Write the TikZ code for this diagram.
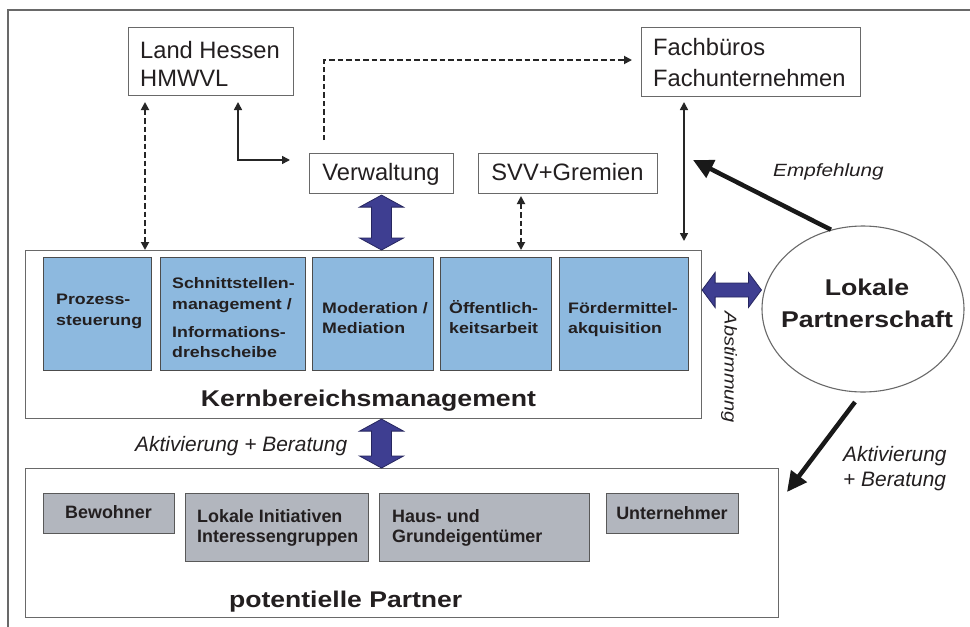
\documentclass[tikz,border=0pt]{standalone}
\usepackage{fontspec}
\setmainfont{Liberation Sans}
\newfontfamily\wf{Liberation Sans}[FakeStretch=1.17]
\usetikzlibrary{arrows.meta,calc,shapes.geometric}
\definecolor{txt}{RGB}{35,31,32}
\definecolor{bfill}{RGB}{141,185,223}
\definecolor{gfill}{RGB}{178,182,190}
\definecolor{afill}{RGB}{62,62,145}
\definecolor{aline}{RGB}{38,38,95}
\definecolor{frm}{RGB}{105,105,105}
\newcommand\fsz[2]{\fontsize{#1}{#2}\selectfont}
\newcommand\blkV[2]{%
  \filldraw[blk] let \p1=(#1), \p2=(#2) in
  (\x1-22pt,\y1-12pt) -- (\x1,\y1) -- (\x1+22pt,\y1-12pt) -- (\x1+10pt,\y1-12pt)
  -- (\x1+10pt,\y2+12pt) -- (\x1+22pt,\y2+12pt) -- (\x1,\y2) -- (\x1-22pt,\y2+12pt)
  -- (\x1-10pt,\y2+12pt) -- (\x1-10pt,\y1-12pt) -- cycle;}
\newcommand\blkH[2]{%
  \filldraw[blk] let \p1=(#1), \p2=(#2) in
  (\x1,\y1) -- (\x1+13pt,\y1+17.5pt) -- (\x1+13pt,\y1+7pt) -- (\x2-13pt,\y1+7pt)
  -- (\x2-13pt,\y1+17.5pt) -- (\x2,\y1) -- (\x2-13pt,\y1-17.5pt) -- (\x2-13pt,\y1-7pt)
  -- (\x1+13pt,\y1-7pt) -- (\x1+13pt,\y1-17.5pt) -- cycle;}
\begin{document}
\begin{tikzpicture}[x=1pt,y=-1pt,
  wbox/.style={draw=frm,line width=1.1pt,fill=white,inner sep=0pt,anchor=north west},
  bbox/.style={draw=black!70,line width=1.1pt,fill=bfill,inner sep=0pt,anchor=north west},
  gbox/.style={draw=black!65,line width=1.1pt,fill=gfill,inner sep=0pt,anchor=north west},
  lbl/.style={inner sep=0pt,text=txt,anchor=base west},
  clbl/.style={inner sep=0pt,text=txt,anchor=base},
  regf/.style={font=\fsz{23.7}{28}},
  bluef/.style={font=\wf\bfseries\fsz{15.2}{20}},
  grayf/.style={font=\bfseries\fsz{17.9}{20}},
  bigf/.style={font=\wf\bfseries\fsz{22.8}{28}},
  itf/.style={font=\itshape\fsz{20.9}{25}},
  dsh/.style={line width=1.8pt,draw=black!85,dash pattern=on 5.5pt off 3pt,
    {Triangle[length=8pt,width=8pt]}-{Triangle[length=8pt,width=8pt]}},
  sol/.style={line width=1.6pt,draw=black!85,
    {Triangle[length=8pt,width=8pt]}-{Triangle[length=8pt,width=8pt]}},
  thick arr/.style={line width=4.5pt,draw=black!90,-{Triangle[length=20pt,width=19pt]}},
  blk/.style={fill=afill,draw=aline,line width=0.8pt,line join=miter}
]
\useasboundingbox (0,0) rectangle (970,627);
\fill[white] (0,0) rectangle (970,627);
% outer frame
\draw[frm,line width=1.3pt] (8,627) -- (8,10) -- (970,10);

% top boxes
\node[wbox,minimum width=165pt,minimum height=68pt] (lh) at (128,27) {};
\node[wbox,minimum width=219pt,minimum height=69pt] (fb) at (641,27) {};
\node[wbox,minimum width=144pt,minimum height=40pt] (verw) at (309,153) {};
\node[wbox,minimum width=179pt,minimum height=40pt] (svv) at (478,153) {};

\node[lbl,regf] (t1) at (140,58) {Land Hessen};
\node[lbl,regf] (t2) at (140,86) {HMWVL};
\node[lbl,regf] (t3) at (653,55) {Fachbüros};
\node[lbl,regf] (t4) at (653,86) {Fachunternehmen};
\node[clbl,regf] (t5) at (381,180) {Verwaltung};
\node[clbl,regf] (t6) at (567.5,180) {SVV+Gremien};

% Kernbereich
\node[wbox,minimum width=676pt,minimum height=168pt] (kern) at (25,250) {};
\node[bbox,minimum width=108pt,minimum height=113pt] (b1) at (43,257) {};
\node[bbox,minimum width=145pt,minimum height=113pt] (b2) at (160,257) {};
\node[bbox,minimum width=121pt,minimum height=113pt] (b3) at (312,257) {};
\node[bbox,minimum width=111pt,minimum height=113pt] (b4) at (440,257) {};
\node[bbox,minimum width=129pt,minimum height=113pt] (b5) at (559,257) {};

\node[lbl,bluef] (u1) at (56,304) {Prozess-};
\node[lbl,bluef] (u2) at (56,325) {steuerung};
\node[lbl,bluef] (u3) at (172,288) {Schnittstellen-};
\node[lbl,bluef] (u4) at (172,309) {management /};
\node[lbl,bluef] (u5) at (172,337) {Informations-};
\node[lbl,bluef] (u6) at (172,357) {drehscheibe};
\node[lbl,bluef] (u7) at (322,313) {Moderation /};
\node[lbl,bluef] (u8) at (322,333) {Mediation};
\node[lbl,bluef] (u9) at (449,313) {Öffentlich-};
\node[lbl,bluef] (u10) at (449,333) {keitsarbeit};
\node[lbl,bluef] (u11) at (568,313) {Fördermittel-};
\node[lbl,bluef] (u12) at (568,333) {akquisition};
\node[clbl,bigf] (kt) at (368.5,406) {Kernbereichsmanagement};

% potentielle Partner
\node[wbox,minimum width=753pt,minimum height=149pt] (pp) at (25,468) {};
\node[gbox,minimum width=131pt,minimum height=40pt] (g1) at (43,493) {};
\node[gbox,minimum width=183pt,minimum height=68pt] (g2) at (185,493) {};
\node[gbox,minimum width=210pt,minimum height=68pt] (g3) at (379,493) {};
\node[gbox,minimum width=132pt,minimum height=40pt] (g4) at (606,493) {};
\node[clbl,grayf] (w1) at (108.5,518) {Bewohner};
\node[lbl,grayf] (w2) at (197,522) {Lokale Initiativen};
\node[lbl,grayf] (w3) at (197,542) {Interessengruppen};
\node[lbl,grayf] (w4) at (392,522) {Haus- und};
\node[lbl,grayf] (w5) at (392,542) {Grundeigentümer};
\node[clbl,grayf] (w6) at (672,519) {Unternehmer};
\node[clbl,font=\wf\bfseries\fsz{22.7}{28}] (pt) at (345.7,607) {potentielle Partner};

% Lokale Partnerschaft
\node[draw=frm,line width=1.1pt,ellipse,minimum width=202pt,minimum height=166pt,inner sep=0pt] (lp) at (863,309) {};
\node[clbl,bigf] (l1) at (867,295) {Lokale};
\node[clbl,bigf] (l2) at (867,327) {Partnerschaft};

% connectors
\coordinate (c1) at (145,102);
\coordinate (c2) at (c1 |- kern.north);
\draw[dsh] (c1) -- (c2);

\coordinate (e1) at (238,102);
\coordinate (e2) at (238,160);
\coordinate (e3) at (290,160);
\draw[sol] (e1) -- (e2) -- (e3);

\coordinate (f1) at (324,140);
\coordinate (f2) at (324,60);
\coordinate (f3) at (632,60);
\draw[line width=1.8pt,draw=black!85,dash pattern=on 5.5pt off 3pt,-{Triangle[length=8pt,width=8pt]}] (f1) -- (f2) -- (f3);

\coordinate (s1) at (521,196);
\coordinate (s2) at (s1 |- kern.north);
\draw[dsh] (s1) -- (s2);

\coordinate (h1) at (684,102);
\coordinate (h2) at (684,241);
\draw[sol] (h1) -- (h2);

% block arrows
\coordinate (v1) at ([yshift=-1pt]verw.south);
\coordinate (v2) at (v1 |- kern.north);
\blkV{v1}{v2}
\coordinate (v3) at (kern.south -| verw.south);
\coordinate (v4) at (v3 |- pp.north);
\blkV{v3}{v4}
\coordinate (y290) at (0,290);
\coordinate (a1) at (kern.east |- y290);
\coordinate (a2) at (lp.west |- y290);
\blkH{a1}{a2}

% thick arrows
\coordinate (em) at (693,160);
\draw[thick arr] (lp.112) -- (em);
\coordinate (k1) at (855,402);
\coordinate (k2) at (787,492);
\draw[thick arr] (k1) -- (k2);

% labels
\node[lbl,font=\wf\itshape\fsz{17.7}{22}] (x1) at (773,176) {Empfehlung};
\node[inner sep=0pt,text=txt,rotate=-90,font=\wf\itshape\fsz{17.1}{20}] (x2) at (729,367.5) {Abstimmung};
\node[lbl,itf] (x3) at (135,451) {Aktivierung + Beratung};
\node[lbl,itf] (x4) at (843,461) {Aktivierung};
\node[lbl,itf] (x5) at (843,486) {+ Beratung};
\end{tikzpicture}
\end{document}
